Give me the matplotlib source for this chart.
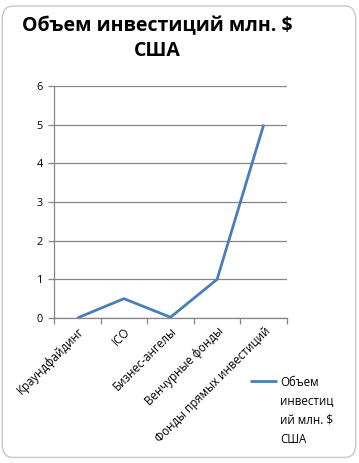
import matplotlib.pyplot as plt
from matplotlib.patches import FancyBboxPatch
from matplotlib.lines import Line2D
import numpy as np

# Chart data
categories = ['Краундфайдинг', 'ICO', 'Бизнес-ангелы', 'Венчурные фонды', 'Фонды прямых инвестиций']
values = [0, 0.5, 0.02, 1, 5]
title = 'Объем инвестиций млн. $\nСША'
legend_label = 'Объем\nинвестиц\nий млн. $\nСША'

line_color = '#4a7ebb'
grid_color = '#868686'

plt.rcParams['font.family'] = ['Open Sans', 'DejaVu Sans']

W, H = 359, 463
fig = plt.figure(figsize=(W / 100, H / 100), dpi=100)
fig.patch.set_facecolor('white')

# rounded chart border, kept behind the axes
border = FancyBboxPatch((0.006, 0.012), 0.985, 0.975, boxstyle='round,pad=0,rounding_size=0.03',
                        transform=fig.transFigure, facecolor='white', edgecolor='#c8c8c8', lw=1,
                        zorder=-10)
fig.add_artist(border)

ax = fig.add_axes([54 / W, 1 - 318 / H, 233 / W, 232 / H])
ax.patch.set_alpha(0)
x = np.arange(len(categories))
ax.plot(x, values, color=line_color, lw=2.0, solid_capstyle='butt')

ax.set_xlim(-0.5, len(categories) - 0.5)
ax.set_ylim(0, 6)
ax.set_yticks(range(0, 7))
ax.yaxis.grid(True, color=grid_color, lw=0.9)
ax.set_axisbelow(True)

ax.set_xticks(x)
ax.set_xticklabels(categories, rotation=45, ha='right', va='top', rotation_mode='anchor', fontsize=8.3)
ax.set_xticks(np.arange(-0.5, len(categories)), minor=True)
ax.tick_params(axis='x', which='major', length=0, pad=5)
ax.tick_params(axis='x', which='minor', length=4, color=grid_color, width=0.9)
ax.tick_params(axis='y', length=4, color=grid_color, width=0.9, labelsize=7.8, pad=4)

for s in ['top', 'right']:
    ax.spines[s].set_visible(False)
for s in ['left', 'bottom']:
    ax.spines[s].set_color(grid_color)
    ax.spines[s].set_linewidth(0.9)

fig.text(157 / W, 1 - 38.5 / H, title, ha='center', va='center', fontsize=14, fontweight='bold',
         linespacing=1.35)

# legend, drawn by hand to match the layout
fig.add_artist(Line2D([250 / W, 277 / W], [1 - 381 / H, 1 - 381 / H], transform=fig.transFigure,
                      color=line_color, lw=2.0, solid_capstyle='butt'))
fig.text(280 / W, 1 - 376 / H, legend_label, ha='left', va='top', fontsize=8.3, linespacing=1.6)

fig.savefig('out.png', dpi=100)
